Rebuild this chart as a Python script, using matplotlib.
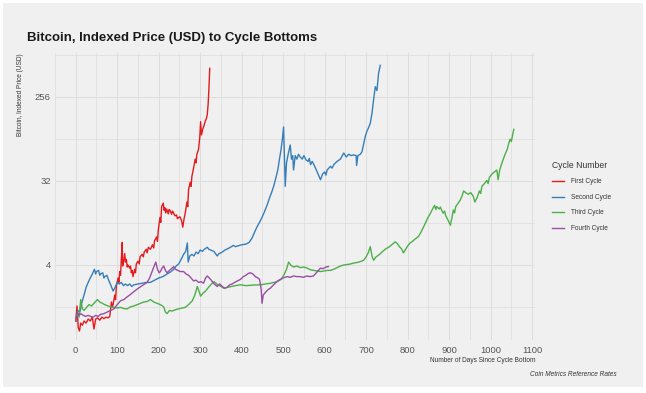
import matplotlib
matplotlib.use("Agg")
import matplotlib.pyplot as plt
import numpy as np
from matplotlib.patches import Rectangle

plt.rcParams['font.family'] = ['Liberation Sans', 'DejaVu Sans']

# indexed price (1 = cycle bottom), (day, value)
first_cycle = [
    (0, 1.0), (3, 1.45), (6, 0.85), (9, 0.78), (12, 0.95), (16, 0.9), (20, 1.0), (25, 0.95),
    (30, 1.05), (35, 1.0), (40, 1.1), (44, 0.82), (48, 1.05), (53, 1.08), (58, 1.02), (63, 1.1),
    (68, 1.06), (73, 1.1), (78, 1.08), (82, 1.12), (86, 1.6), (88, 1.4), (90, 1.5), (94, 1.9),
    (96, 1.7), (98, 2.4), (102, 2.9), (104, 2.6), (106, 3.4), (108, 3.1), (110, 4.8), (112, 7.0),
    (113, 3.9), (115, 4.2), (118, 5.3), (120, 4.3), (122, 4.6), (124, 3.8), (126, 4.0),
    (130, 3.7), (132, 3.9), (134, 3.3), (136, 3.5), (138, 3.0), (142, 3.6), (144, 3.3),
    (146, 4.1), (150, 4.4), (153, 4.1), (155, 4.9), (160, 5.2), (163, 4.9), (165, 5.5),
    (170, 5.9), (172, 5.4), (175, 6.2), (180, 5.9), (185, 6.6), (188, 6.1), (190, 7.3),
    (195, 8.0), (197, 7.2), (199, 9.5), (203, 13.0), (205, 11.5), (207, 17.0), (211, 18.5),
    (213, 15.5), (215, 16.5), (217, 14.5), (219, 16.0), (223, 14.2), (225, 15.8), (227, 15.5),
    (231, 14.0), (233, 15.2), (235, 14.8), (239, 13.5), (243, 13.8), (245, 12.6), (247, 12.8),
    (251, 13.2), (255, 12.0), (258, 10.2), (261, 12.5), (264, 14.5), (268, 19.0), (270, 17.0),
    (272, 26.0), (276, 31.0), (278, 28.0), (280, 36.0), (284, 44.0), (288, 55.0), (290, 50.0),
    (292, 62.0), (296, 70.0), (299, 95.0), (301, 139.0), (303, 100.0), (306, 115.0),
    (309, 125.0), (312, 140.0), (315, 150.0), (317, 165.0), (319, 210.0), (321, 317.0),
    (323, 520.0),
]

second_cycle = [
    (0, 1.0), (5, 1.3), (10, 1.25), (15, 1.6), (20, 1.9), (25, 2.3), (30, 2.6), (35, 2.9),
    (40, 3.2), (45, 3.6), (48, 3.2), (50, 3.4), (55, 3.5), (58, 3.1), (60, 3.2), (65, 3.3),
    (68, 2.9), (70, 3.0), (75, 3.1), (80, 2.7), (85, 2.4), (90, 2.1), (95, 2.3), (100, 2.6),
    (105, 2.5), (110, 2.6), (115, 2.4), (120, 2.5), (125, 2.4), (130, 2.5), (135, 2.35),
    (140, 2.45), (150, 2.5), (160, 2.55), (170, 2.6), (180, 2.6), (190, 2.75), (200, 2.9),
    (210, 3.0), (220, 3.2), (230, 3.4), (236, 3.6), (242, 3.9), (248, 4.1), (254, 4.6),
    (260, 5.2), (265, 5.6), (269, 6.9), (271, 4.3), (275, 5.0), (280, 5.2), (285, 5.0),
    (290, 5.5), (295, 5.3), (300, 5.8), (305, 5.6), (310, 5.9), (317, 6.2), (321, 5.9),
    (325, 5.8), (333, 5.6), (337, 5.3), (341, 5.0), (345, 5.3), (350, 5.4), (360, 5.8),
    (370, 6.1), (380, 6.5), (385, 6.3), (390, 6.4), (400, 6.6), (410, 6.7), (418, 7.0),
    (425, 7.8), (431, 9.0), (437, 10.3), (443, 11.5), (449, 13.0), (455, 15.0), (461, 17.5),
    (467, 21.0), (472, 24.0), (477, 28.0), (482, 34.0), (487, 42.0), (491, 55.0), (495, 70.0),
    (498, 90.0), (501, 122.0), (503, 60.0), (505, 28.0), (508, 50.0), (512, 62.0), (517, 78.0),
    (520, 55.0), (523, 60.0), (525, 42.0), (529, 60.0), (533, 55.0), (537, 62.0), (541, 58.0),
    (546, 55.0), (550, 60.0), (555, 54.0), (560, 52.0), (563, 56.0), (566, 48.0), (570, 52.0),
    (573, 49.0), (578, 44.0), (584, 38.0), (590, 33.0), (595, 38.0), (600, 40.0), (603, 37.0),
    (606, 42.0), (614, 46.0), (618, 44.0), (622, 48.0), (630, 52.0), (638, 55.0), (646, 64.0),
    (652, 58.0), (658, 62.0), (664, 60.0), (670, 61.0), (676, 60.0), (677, 47.0), (680, 60.0),
    (686, 62.0), (690, 66.0), (694, 80.0), (698, 97.0), (702, 110.0), (706, 120.0),
    (710, 134.0), (714, 170.0), (718, 240.0), (722, 330.0), (726, 300.0), (730, 460.0),
    (734, 560.0),
]

third_cycle = [
    (0, 1.0), (4, 1.2), (8, 1.1), (12, 1.7), (16, 1.35), (20, 1.3), (26, 1.4), (32, 1.5),
    (38, 1.45), (44, 1.55), (52, 1.7), (58, 1.6), (64, 1.55), (70, 1.5), (78, 1.45), (84, 1.42),
    (92, 1.4), (100, 1.38), (108, 1.4), (116, 1.36), (124, 1.35), (132, 1.42), (140, 1.45),
    (148, 1.5), (156, 1.55), (164, 1.6), (172, 1.62), (180, 1.7), (188, 1.6), (196, 1.55),
    (204, 1.5), (212, 1.42), (216, 1.25), (220, 1.2), (226, 1.3), (232, 1.28), (240, 1.32),
    (248, 1.35), (256, 1.38), (264, 1.4), (272, 1.5), (281, 1.65), (287, 1.9), (293, 2.35),
    (297, 2.1), (301, 1.85), (307, 2.0), (313, 2.1), (320, 2.3), (327, 2.5), (333, 2.65),
    (340, 2.5), (350, 2.35), (357, 2.25), (365, 2.3), (375, 2.35), (385, 2.4), (397, 2.45),
    (410, 2.4), (420, 2.42), (432, 2.44), (445, 2.45), (458, 2.5), (470, 2.55), (485, 2.65),
    (495, 2.8), (503, 3.2), (508, 3.6), (513, 4.3), (518, 4.0), (525, 3.8), (533, 3.9),
    (541, 3.75), (550, 3.8), (558, 3.7), (566, 3.55), (574, 3.5), (582, 3.45), (590, 3.4),
    (598, 3.45), (606, 3.5), (614, 3.5), (622, 3.6), (630, 3.75), (638, 3.9), (646, 4.0),
    (654, 4.05), (662, 4.1), (670, 4.2), (678, 4.25), (686, 4.35), (694, 4.5), (700, 4.9),
    (705, 5.4), (710, 6.3), (714, 5.0), (718, 4.5), (724, 4.9), (730, 5.1), (736, 5.4),
    (742, 5.7), (748, 6.0), (754, 6.2), (760, 6.5), (765, 6.8), (770, 7.1), (775, 6.8),
    (780, 6.3), (785, 6.0), (790, 5.4), (795, 5.9), (800, 6.4), (806, 6.9), (812, 7.2),
    (818, 7.6), (826, 8.1), (832, 9.0), (838, 10.2), (843, 11.3), (849, 13.0), (855, 14.4),
    (860, 16.0), (865, 17.5), (868, 15.8), (870, 17.0), (876, 16.0), (879, 16.8), (882, 15.5),
    (886, 14.4), (889, 15.2), (892, 13.5), (898, 12.0), (903, 10.7), (907, 13.0), (910, 15.6),
    (913, 14.5), (916, 17.0), (922, 18.5), (927, 20.0), (931, 22.0), (935, 25.0), (940, 24.0),
    (946, 23.0), (952, 24.0), (958, 22.0), (962, 19.0), (967, 21.0), (973, 25.0), (976, 23.5),
    (979, 28.0), (985, 30.0), (991, 32.5), (994, 30.0), (997, 35.0), (1003, 38.0), (1009, 40.0),
    (1015, 42.0), (1018, 33.0), (1022, 42.0), (1026, 48.0), (1030, 54.0), (1035, 62.0),
    (1040, 70.0), (1044, 82.0), (1047, 90.0), (1050, 85.0), (1053, 100.0), (1056, 115.0),
]

fourth_cycle = [
    (0, 1.0), (4, 1.25), (8, 1.15), (12, 1.2), (18, 1.15), (24, 1.12), (30, 1.15), (36, 1.12),
    (42, 1.1), (48, 1.15), (54, 1.12), (60, 1.18), (68, 1.2), (76, 1.25), (84, 1.3), (92, 1.35),
    (100, 1.5), (108, 1.65), (116, 1.7), (124, 1.82), (130, 1.9), (136, 2.0), (142, 2.1),
    (148, 2.2), (154, 2.3), (160, 2.4), (166, 2.5), (172, 2.6), (178, 2.9), (184, 3.4),
    (190, 4.0), (193, 4.3), (197, 3.6), (201, 3.3), (204, 3.4), (208, 3.7), (212, 3.9),
    (216, 3.5), (220, 3.3), (226, 3.5), (232, 3.7), (236, 3.85), (240, 3.6), (246, 3.5),
    (252, 3.4), (260, 3.4), (266, 3.2), (272, 3.1), (278, 2.9), (284, 2.7), (290, 2.75),
    (296, 2.6), (302, 2.65), (308, 2.55), (313, 2.9), (317, 3.05), (322, 2.9), (328, 2.7),
    (334, 2.5), (341, 2.35), (347, 2.5), (353, 2.35), (359, 2.25), (365, 2.3), (371, 2.45),
    (377, 2.5), (383, 2.6), (390, 2.7), (397, 2.8), (404, 3.0), (410, 3.1), (416, 3.25),
    (421, 3.3), (427, 3.2), (433, 3.0), (439, 2.9), (443, 2.8), (447, 2.2), (449, 1.55),
    (452, 1.9), (456, 2.0), (460, 2.1), (465, 2.2), (469, 2.25), (475, 2.4), (481, 2.55),
    (487, 2.7), (493, 2.8), (500, 2.9), (509, 3.0), (517, 2.95), (525, 3.05), (533, 3.0),
    (541, 3.0), (549, 2.95), (557, 3.05), (565, 3.0), (573, 3.05), (580, 3.3), (585, 3.5),
    (590, 3.7), (596, 3.65), (603, 3.8), (609, 3.85),
]

cycle_names = ['First Cycle', 'Second Cycle', 'Third Cycle', 'Fourth Cycle']
cycle_colors = ['#E41A1C', '#377EB8', '#4DAF4A', '#984EA3']
y_ticks = [4, 32, 256]
x_ticks = list(range(0, 1101, 100))

bg = '#F0F0F0'
grid_col = '#DDDDDD'

fig = plt.figure(figsize=(6.46, 3.93), dpi=100, facecolor='white')
fig.patches.append(Rectangle((3 / 646, 1 - 387 / 393), 640 / 646, 384 / 393,
                             transform=fig.transFigure, facecolor=bg, edgecolor='none', zorder=-10))
ax = fig.add_axes([55 / 646, 1 - 340 / 393, 480 / 646, 287 / 393])
ax.set_facecolor(bg)

lines = []
for data, name, col in zip([first_cycle, second_cycle, third_cycle, fourth_cycle], cycle_names, cycle_colors):
    d, v = zip(*data)
    ln, = ax.plot(d, v, color=col, lw=1.0, label=name, zorder=3)
    lines.append(ln)

ax.set_yscale('log', base=2)
ax.set_ylim(0.625, 760)
ax.set_xlim(-48, 1107)
ax.set_yticks(y_ticks)
ax.set_yticklabels([str(t) for t in y_ticks])
ax.set_yticks([np.sqrt(y_ticks[0] * y_ticks[0] / 8)] + [np.sqrt(a * b) for a, b in zip(y_ticks, y_ticks[1:] + [2048])], minor=True)
ax.set_xticks(x_ticks)
ax.set_xticks([t - 50 for t in x_ticks], minor=True)
ax.yaxis.set_minor_formatter(plt.NullFormatter())

ax.grid(True, which='major', color=grid_col, lw=0.7)
ax.grid(True, which='minor', color=grid_col, lw=0.5)
ax.set_axisbelow(True)
for s in ax.spines.values():
    s.set_visible(False)
ax.tick_params(which='both', length=0, labelsize=6.8, labelcolor='#555555')
ax.tick_params(axis='x', pad=4)
ax.tick_params(axis='y', pad=3)

ax.set_ylabel('Bitcoin, Indexed Price (USD)', fontsize=4.7, color='#333333', loc='top', labelpad=8)
ax.set_xlabel('Number of Days Since Cycle Bottom', fontsize=4.7, color='#333333', loc='right', labelpad=2)

fig.text(27 / 646, 1 - 41 / 393, 'Bitcoin, Indexed Price (USD) to Cycle Bottoms',
         fontsize=9.5, fontweight='bold', color='#1a1a1a', ha='left', va='baseline')
fig.text(617 / 646, 1 - 375 / 393, 'Coin Metrics Reference Rates', fontsize=4.7,
         style='italic', color='#333333', ha='right', va='center')

leg = fig.legend(lines, cycle_names, title='Cycle Number', loc='upper left',
                 bbox_to_anchor=(546 / 646, 1 - 155 / 393), frameon=False, fontsize=4.7,
                 title_fontsize=6.2, handlelength=1.9, handletextpad=1.1, labelspacing=1.3,
                 alignment='left')
leg.get_title().set_color('#333333')
for t in leg.get_texts():
    t.set_color('#333333')

fig.savefig('out.png', dpi=100, facecolor='white')
